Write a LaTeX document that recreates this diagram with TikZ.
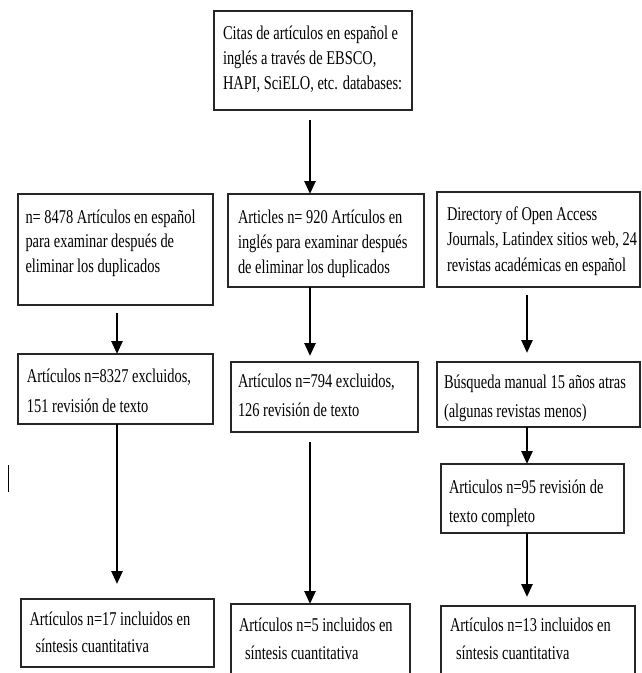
\documentclass[tikz,border=0pt]{standalone}
\usepackage{fontspec}
\setmainfont{Liberation Serif}[FakeStretch=0.74]
\usetikzlibrary{arrows.meta}
\newcommand\bcontent[5]{\parbox[c][#2pt][t]{#1pt}{\fontsize{19.5pt}{#4pt}\selectfont\raggedright\rule{0pt}{#3pt}#5}}
\begin{document}
\begin{tikzpicture}[x=1pt,y=-1pt,
  bx/.style={draw=black!85, line width=1.3pt, anchor=north west, inner ysep=0pt, outer sep=0pt},
  arr/.style={line width=2.6pt, -{Triangle[width=11pt,length=13pt]}}]
\useasboundingbox (0,0) rectangle (641,673);
\coordinate (cL) at (117,0);
\coordinate (cM) at (310,0);
\coordinate (cR) at (527,0);

\node[bx, inner xsep=9pt] (top) at (214,11) {\bcontent{180}{99}{28}{25}{\mbox{Citas de artículos en español e}\\\mbox{inglés a través de EBSCO,}\\\mbox{HAPI, SciELO, etc. databases:}}};

\node[bx, inner xsep=7.5pt] (r2L) at (18,194) {\bcontent{180}{111}{29}{24.5}{\mbox{n= 8478 Artículos en español}\\\mbox{para examinar después de}\\\mbox{eliminar los duplicados}}};
\node[bx, inner xsep=10pt] (r2M) at (228,194) {\bcontent{176}{93}{29}{25}{\mbox{Articles n= 920 Artículos en}\\\mbox{inglés para examinar después}\\\mbox{de eliminar los duplicados}}};
\node[bx, inner xsep=10pt] (r2R) at (437,192) {\bcontent{183}{95}{28}{25.5}{\mbox{Directory of Open Access}\\\mbox{Journals, Latindex sitios web, 24}\\\mbox{revistas académicas en español}}};

\node[bx, inner xsep=9pt] (r3L) at (18,354) {\bcontent{177}{70}{28}{30}{\mbox{Artículos n=8327 excluidos,}\\\mbox{151 revisión de texto}}};
\node[bx, inner xsep=7pt] (r3M) at (231,362) {\bcontent{173}{70}{25}{29}{\mbox{Artículos n=794 excluidos,}\\\mbox{126 revisión de texto}}};
\node[bx, inner xsep=7pt] (r3R) at (437,362) {\bcontent{189}{65}{26}{29}{\mbox{Búsqueda manual 15 años atras}\\\mbox{(algunas revistas menos)}}};

\node[bx, inner xsep=8pt] (n95) at (441,464) {\bcontent{167}{69}{29}{29}{\mbox{Articulos n=95 revisión de}\\\mbox{texto completo}}};

\node[bx, inner xsep=8.5pt] (bL) at (21,599) {\bcontent{176}{68}{26}{27}{\mbox{Artículos n=17 incluidos en}\\\mbox{\hspace{6pt}síntesis cuantitativa}}};
\node[bx, inner xsep=8pt] (bM) at (231,604) {\bcontent{163}{86}{27}{28}{\mbox{Artículos n=5 incluidos en}\\\mbox{\hspace{6pt}síntesis cuantitativa}}};
\node[bx, inner xsep=9pt] (bR) at (441,606) {\bcontent{176}{84}{25}{28}{\mbox{Artículos n=13 incluidos en}\\\mbox{\hspace{6pt}síntesis cuantitativa}}};

\draw[arr, shorten <=10pt] (top.south -| cM) -- (r2M.north -| cM);
\draw[arr, shorten <=8pt] (r2L.south -| cL) -- (r3L.north -| cL);
\draw[arr, shorten >=6pt] (r2M.south -| cM) -- (r3M.north -| cM);
\draw[arr, shorten <=8pt, shorten >=9pt] (r2R.south -| cR) -- (r3R.north -| cR);
\draw[arr, shorten >=15pt] (r3L.south -| cL) -- (bL.north -| cL);
\draw[arr, shorten <=10pt] (r3M.south -| cM) -- (bM.north -| cM);
\draw[arr] (r3R.south -| cR) -- (n95.north -| cR);
\draw[arr, shorten >=9pt] (n95.south -| cR) -- (bR.north -| cR);

\draw[line width=1pt] (8,465) -- (8,492);
\end{tikzpicture}
\end{document}
